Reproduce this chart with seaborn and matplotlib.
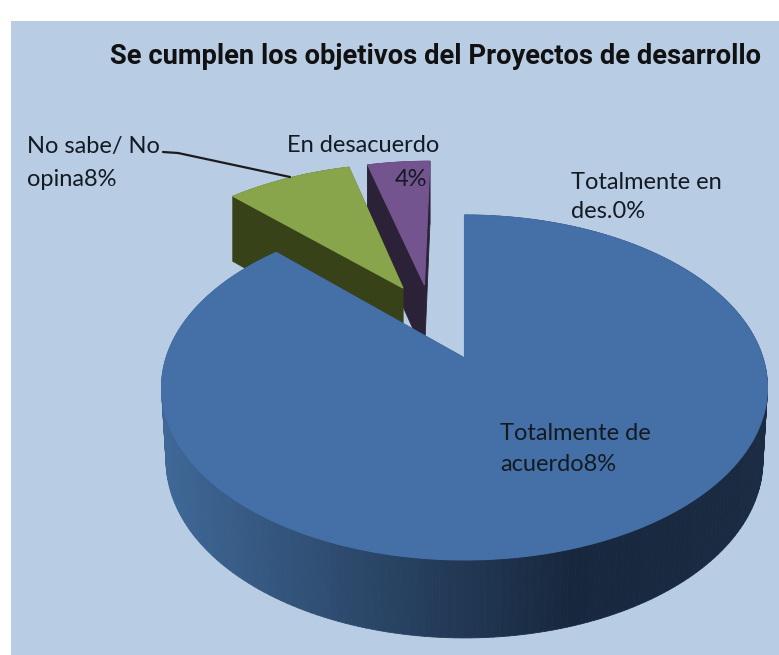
import numpy as np
import matplotlib.pyplot as plt
import seaborn as sns
from matplotlib.transforms import Affine2D

# valores del grafico
categorias = ['Totalmente de acuerdo', 'Totalmente en des.', 'No sabe/ No opina', 'En desacuerdo']
valores = [87.5, 0, 8.33, 4.17]
etiquetas = ['Totalmente de\nacuerdo8%', 'Totalmente en\ndes.0%', 'No sabe/ No\nopina8%', 'En desacuerdo']
titulo = 'Se cumplen los objetivos del Proyectos de desarrollo'

sns.set_theme(style='white')
plt.rcParams['font.family'] = ['Lato', 'DejaVu Sans']

W, H = 779, 655
fig = plt.figure(figsize=(W / 100, H / 100), dpi=100, facecolor='white')
ax = fig.add_axes([11 / W, 0, (W - 11) / W, (H - 21) / H], facecolor='#b8cce4')

wedges, _ = ax.pie(valores, startangle=90, counterclock=False, frame=True)
ax.set_aspect('auto')
ax.set_xlim(11, W)
ax.set_ylim(H, 21)
ax.set_xticks([])
ax.set_yticks([])
for s in ax.spines.values():
    s.set_visible(False)

# perspectiva del disco -> pixeles
k, a, b = 0.171, 298.5, 167.4
x0, y0 = 464.5, 358


def top(x, y):
    den = 1 + k * y
    return x0 + a * x / den, y0 - b * y / den


def bottom(x, y, enc):
    px, py = top(x, y)
    return x0 + (px - x0) * enc, py + 72 - 6 * y


caras = {
    'Totalmente de acuerdo': ('#4470a7', sns.blend_palette(['#3f6897', '#2b4769', '#17283e', '#1a2b42'], as_cmap=True)),
    'No sabe/ No opina': ('#89a54c', sns.blend_palette(['#384219', '#384219'], as_cmap=True)),
    'En desacuerdo': ('#73548f', sns.blend_palette(['#2c2238', '#2c2238'], as_cmap=True)),
}
desplaza = {
    'Totalmente de acuerdo': (0, 0),
    'No sabe/ No opina': (-0.222, 0.45),
    'En desacuerdo': (-0.145, 0.471),
}

# de atras hacia delante
for cat in ['En desacuerdo', 'No sabe/ No opina', 'Totalmente de acuerdo']:
    w = wedges[categorias.index(cat)]
    poly = w.get_path().to_polygons(Affine2D().scale(1000))[0] / 1000
    w.remove()
    dx, dy = desplaza[cat]
    px, py = poly[:, 0] + dx, poly[:, 1] + dy
    cara, cmap = caras[cat]
    enc = 0.985 if dx == 0 else 1
    orden = np.argsort(-(py[:-1] + py[1:]))
    for i in orden:
        tx1, ty1 = top(px[i], py[i])
        tx2, ty2 = top(px[i + 1], py[i + 1])
        bx1, by1 = bottom(px[i], py[i], enc)
        bx2, by2 = bottom(px[i + 1], py[i + 1], enc)
        c = cmap(np.clip(((tx1 + tx2) / 2 - 163) / 606, 0, 1))
        ax.fill([tx1, tx2, bx2, bx1], [ty1, ty2, by2, by1], color=c, lw=0.6, zorder=2)
    tx, ty = top(px, py)
    ax.fill(tx, ty, color=cara, ec=cara, lw=0.8, zorder=2)

# linea guia
ax.plot([163, 178, 290], [152, 153, 177], color='#1c1c1c', lw=1.6, zorder=3)

ax.text(110, 56, titulo, fontsize=19.75, fontweight='bold', family='Roboto', color='#111111', va='center', zorder=4)
pos = {
    'Totalmente de acuerdo': (500, 449, 1.6),
    'Totalmente en des.': (571, 197, 1.45),
    'No sabe/ No opina': (27, 163, 1.65),
}
for cat, et in zip(categorias, etiquetas):
    if cat in pos:
        px_, py_, esp = pos[cat]
        ax.text(px_, py_, et, fontsize=17, color='#141a22', va='center', ha='left', linespacing=esp, zorder=4)
ax.text(287, 145, etiquetas[3], fontsize=17, color='#141a22', va='center', zorder=4)
ax.text(427, 179, '4%', fontsize=17, color='#141a22', va='center', ha='right', zorder=4)

fig.savefig('out.png', dpi=100, facecolor='white')
